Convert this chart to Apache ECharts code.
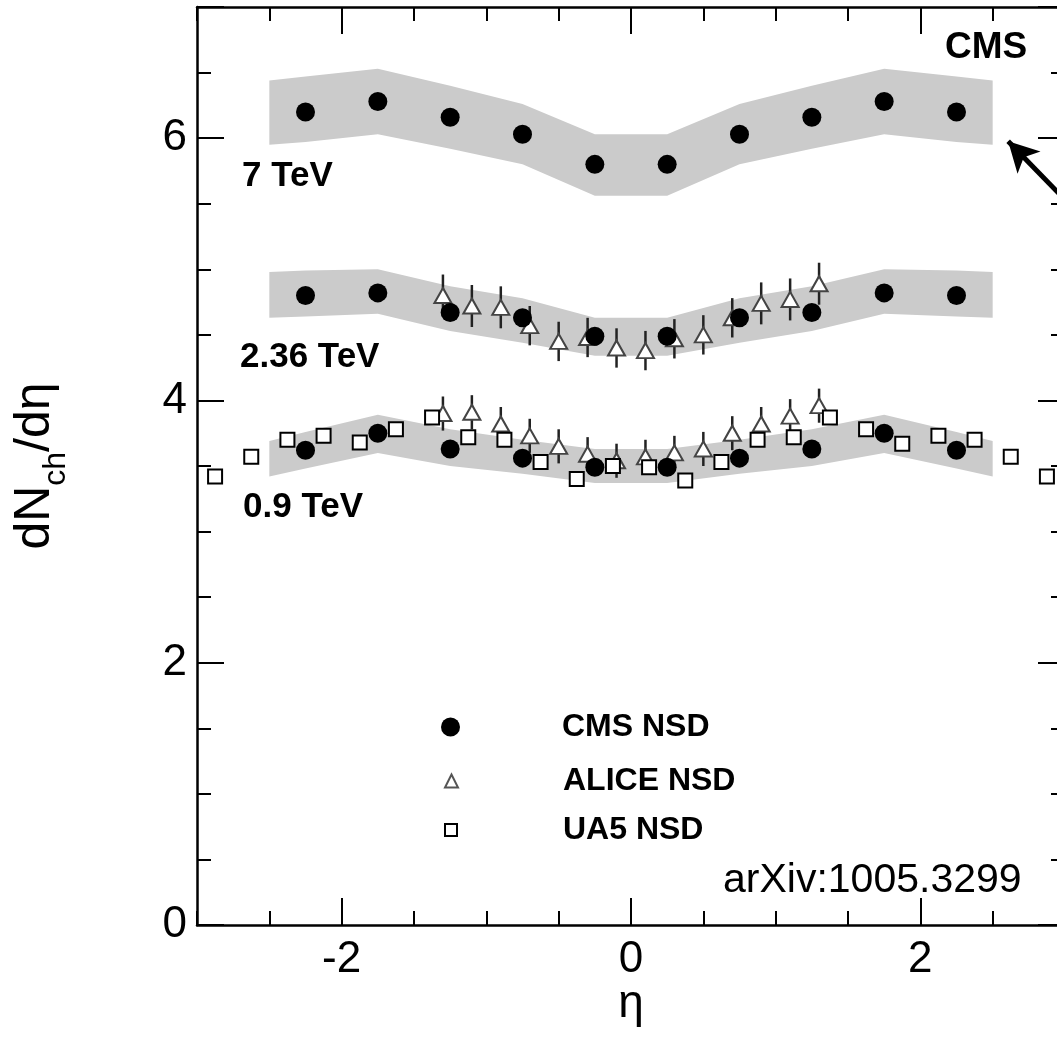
<!DOCTYPE html>
<html>
<head>
<meta charset="utf-8">
<script src="https://cdn.jsdelivr.net/npm/echarts@6/dist/echarts.min.js"></script>
<style>
html,body{margin:0;padding:0;background:#fff;}
#c{width:1057px;height:1045px;}
</style>
</head>
<body>
<div id="c"></div>
<script>
// ---------------- data ----------------
const cmsEta    = [-2.25, -1.75, -1.25, -0.75, -0.25, 0.25, 0.75, 1.25, 1.75, 2.25];
const cms7TeV   = [6.20, 6.28, 6.16, 6.03, 5.80, 5.80, 6.03, 6.16, 6.28, 6.20];
const cms236TeV = [4.80, 4.82, 4.67, 4.63, 4.49, 4.49, 4.63, 4.67, 4.82, 4.80];
const cms09TeV  = [3.62, 3.75, 3.63, 3.56, 3.49, 3.49, 3.56, 3.63, 3.75, 3.62];

const bandEta     = [-2.5, -2.25, -1.75, -1.25, -0.75, -0.25, 0.25, 0.75, 1.25, 1.75, 2.25, 2.5];
const band7Low    = [5.95, 5.97, 6.03, 5.92, 5.80, 5.56, 5.56, 5.80, 5.92, 6.03, 5.97, 5.95];
const band7High   = [6.44, 6.47, 6.53, 6.40, 6.26, 6.03, 6.03, 6.26, 6.40, 6.53, 6.47, 6.44];
const band236Low  = [4.63, 4.64, 4.66, 4.53, 4.44, 4.34, 4.34, 4.44, 4.53, 4.66, 4.64, 4.63];
const band236High = [4.98, 4.99, 5.00, 4.87, 4.78, 4.63, 4.63, 4.78, 4.87, 5.00, 4.99, 4.98];
const band09Low   = [3.42, 3.48, 3.60, 3.50, 3.44, 3.37, 3.37, 3.44, 3.50, 3.60, 3.48, 3.42];
const band09High  = [3.69, 3.76, 3.89, 3.78, 3.70, 3.63, 3.63, 3.70, 3.78, 3.89, 3.76, 3.69];

const aliceEta     = [-1.3, -1.1, -0.9, -0.7, -0.5, -0.3, -0.1, 0.1, 0.3, 0.5, 0.7, 0.9, 1.1, 1.3];
const alice236TeV  = [4.80, 4.72, 4.71, 4.57, 4.45, 4.48, 4.40, 4.38, 4.47, 4.50, 4.63, 4.74, 4.77, 4.89];
const alice236Err  = [0.16, 0.16, 0.16, 0.15, 0.15, 0.15, 0.15, 0.15, 0.15, 0.15, 0.15, 0.16, 0.16, 0.16];
const alice09TeV   = [3.90, 3.91, 3.82, 3.73, 3.65, 3.59, 3.54, 3.57, 3.60, 3.63, 3.75, 3.82, 3.88, 3.96];
const alice09Err   = [0.13, 0.13, 0.13, 0.13, 0.13, 0.13, 0.13, 0.13, 0.13, 0.13, 0.13, 0.13, 0.13, 0.13];

const ua5Eta   = [-2.875, -2.625, -2.375, -2.125, -1.875, -1.625, -1.375, -1.125, -0.875, -0.625, -0.375, -0.125,
                   0.125, 0.375, 0.625, 0.875, 1.125, 1.375, 1.625, 1.875, 2.125, 2.375, 2.625, 2.875];
const ua509TeV = [3.42, 3.57, 3.70, 3.73, 3.68, 3.78, 3.87, 3.72, 3.70, 3.53, 3.40, 3.50,
                  3.49, 3.39, 3.53, 3.70, 3.72, 3.87, 3.78, 3.67, 3.73, 3.70, 3.57, 3.42];

const xTickLabels = [-2, 0, 2];
const yTickLabels = [0, 2, 4, 6];
const seriesNames = ['CMS NSD', 'ALICE NSD', 'UA5 NSD'];
const energyLabels = ['7 TeV', '2.36 TeV', '0.9 TeV'];

// ---------------- chart ----------------
const FONT = "'Liberation Sans', Arial, Helvetica, sans-serif";
const chart = echarts.init(document.getElementById('c'));

const bands = [
  {lo: band7Low, hi: band7High},
  {lo: band236Low, hi: band236High},
  {lo: band09Low, hi: band09High}
];
const pair = (xs, ys) => xs.map((x, i) => [x, ys[i]]);
const cmsData = pair(cmsEta, cms7TeV).concat(pair(cmsEta, cms236TeV), pair(cmsEta, cms09TeV));
const aliceData = pair(aliceEta, alice236TeV).concat(pair(aliceEta, alice09TeV));
const errData = aliceEta.map((x, i) => [x, alice236TeV[i], alice236Err[i]])
  .concat(aliceEta.map((x, i) => [x, alice09TeV[i], alice09Err[i]]));
const ua5Data = pair(ua5Eta, ua509TeV);

const GL = 197, GT = 7, GW = 868, GH = 918;
const unitX = GW / 6;

const axisLineStyle = {show: true, onZero: false, lineStyle: {color: '#000', width: 2.5}};
const noLine = {show: false, onZero: false};
const shortTick = {show: true, inside: true, length: 14, lineStyle: {color: '#000', width: 2}};
const longTick = {show: true, inside: true, length: 27, lineStyle: {color: '#000', width: 2}};
const noLabel = {show: false};
const labelStyle = {color: '#000', fontSize: 44, fontFamily: FONT};

const legendText = (gap) => ({
  color: '#000', fontSize: 32, fontWeight: 'bold', fontFamily: FONT, lineHeight: 32,
  rich: {g: {width: gap, lineHeight: 32}}
});

const option = {
  animation: false,
  backgroundColor: '#fff',
  grid: [
    {left: GL, top: GT, width: GW, height: GH, outerBoundsMode: 'none', containLabel: false},
    {left: GL + unitX, top: GT, width: GW - unitX, height: GH, outerBoundsMode: 'none', containLabel: false},
    {left: GL, top: GT, width: GW, height: GH, outerBoundsMode: 'none', containLabel: false}
  ],
  xAxis: [
    {gridIndex: 0, type: 'value', position: 'bottom', min: -3, max: 3, interval: 0.5,
     axisLine: axisLineStyle, axisTick: shortTick, axisLabel: noLabel, splitLine: {show: false},
     name: 'η', nameLocation: 'middle', nameGap: 56, nameMoveOverlap: false,
     nameTextStyle: {color: '#000', fontSize: 46, fontFamily: FONT}},
    {gridIndex: 0, type: 'value', position: 'top', min: -3, max: 3, interval: 0.5,
     axisLine: axisLineStyle, axisTick: shortTick, axisLabel: noLabel, splitLine: {show: false}},
    {gridIndex: 1, type: 'value', position: 'bottom', min: -2, max: 3, interval: 2,
     axisLine: noLine, axisTick: longTick, splitLine: {show: false},
     axisLabel: Object.assign({margin: 13, formatter: v => xTickLabels.indexOf(v) >= 0 ? String(v) : ''}, labelStyle)},
    {gridIndex: 1, type: 'value', position: 'top', min: -2, max: 3, interval: 2,
     axisLine: noLine, axisTick: longTick, axisLabel: noLabel, splitLine: {show: false}},
    {gridIndex: 2, type: 'value', show: false, min: -3, max: 3, axisLine: noLine}
  ],
  yAxis: [
    {gridIndex: 0, type: 'value', position: 'left', min: 0, max: 7, interval: 0.5,
     axisLine: axisLineStyle, axisTick: shortTick, axisLabel: noLabel, splitLine: {show: false},
     name: 'dN{s|ch}/dη', nameLocation: 'middle', nameGap: 125, nameRotate: 90, nameMoveOverlap: false,
     nameTextStyle: {color: '#000', fontSize: 50, fontFamily: FONT,
       rich: {s: {fontSize: 32, fontFamily: FONT, color: '#000', padding: [42, 0, 0, 0]}}}},
    {gridIndex: 0, type: 'value', position: 'right', min: 0, max: 7, interval: 0.5,
     axisLine: axisLineStyle, axisTick: shortTick, axisLabel: noLabel, splitLine: {show: false}},
    {gridIndex: 1, type: 'value', show: false, min: 0, max: 7, axisLine: noLine},
    {gridIndex: 2, type: 'value', position: 'left', min: 0, max: 7, interval: 2,
     axisLine: noLine, axisTick: longTick, splitLine: {show: false},
     axisLabel: Object.assign({margin: 10, formatter: v => yTickLabels.indexOf(v) >= 0 ? String(v) : ''}, labelStyle)},
    {gridIndex: 2, type: 'value', position: 'right', min: 0, max: 7, interval: 2,
     axisLine: noLine, axisTick: longTick, axisLabel: noLabel, splitLine: {show: false}}
  ],
  legend: [
    {data: [seriesNames[0]], left: 441, top: 711, padding: 0, orient: 'vertical', selectedMode: false,
     itemWidth: 19, itemHeight: 19, icon: 'circle', itemStyle: {color: '#000', borderWidth: 0},
     formatter: n => '{g|}' + n, textStyle: legendText(97)},
    {data: [seriesNames[1]], left: 444, top: 765, padding: 0, orient: 'vertical', selectedMode: false,
     itemWidth: 13, itemHeight: 13, icon: 'triangle', itemStyle: {color: '#fff', borderColor: '#555', borderWidth: 2},
     formatter: n => '{g|}' + n, textStyle: legendText(100)},
    {data: [seriesNames[2]], left: 444, top: 814, padding: 0, orient: 'vertical', selectedMode: false,
     itemWidth: 12, itemHeight: 12, icon: 'rect', itemStyle: {color: '#fff', borderColor: '#000', borderWidth: 2},
     formatter: n => '{g|}' + n, textStyle: legendText(101)}
  ],
  graphic: [
    {type: 'text', x: 945, y: 48, silent: true,
     style: {text: 'CMS', font: 'bold 37px ' + FONT, fill: '#000', verticalAlign: 'middle'}},
    {type: 'text', x: 242, y: 176, silent: true,
     style: {text: energyLabels[0], font: 'bold 35px ' + FONT, fill: '#000', verticalAlign: 'middle'}},
    {type: 'text', x: 240, y: 357, silent: true,
     style: {text: energyLabels[1], font: 'bold 35px ' + FONT, fill: '#000', verticalAlign: 'middle'}},
    {type: 'text', x: 243, y: 507, silent: true,
     style: {text: energyLabels[2], font: 'bold 35px ' + FONT, fill: '#000', verticalAlign: 'middle'}},
    {type: 'text', x: 723, y: 881, silent: true,
     style: {text: 'arXiv:1005.3299', font: '41px ' + FONT, fill: '#000', verticalAlign: 'middle'}}
  ],
  series: [
    {
      type: 'custom', name: 'syst', xAxisIndex: 0, yAxisIndex: 0, silent: true, z: 1,
      data: bands.map(() => [0, 3]),
      renderItem: (params, api) => {
        const b = bands[params.dataIndex];
        const pts = [];
        for (let i = 0; i < bandEta.length; i++) pts.push(api.coord([bandEta[i], b.hi[i]]));
        for (let i = bandEta.length - 1; i >= 0; i--) pts.push(api.coord([bandEta[i], b.lo[i]]));
        return {type: 'polygon', shape: {points: pts}, style: {fill: '#cbcbcb'}};
      }
    },
    {
      type: 'custom', name: 'aliceErr', xAxisIndex: 0, yAxisIndex: 0, silent: true, z: 2,
      dimensions: ['x', 'y', 'err'], encode: {x: 0, y: 1},
      data: errData,
      renderItem: (params, api) => {
        const x = api.value(0), y = api.value(1), e = api.value(2);
        const p1 = api.coord([x, y - e]), p2 = api.coord([x, y + e]);
        return {type: 'line', shape: {x1: p1[0], y1: p1[1], x2: p2[0], y2: p2[1]},
                style: {stroke: '#222', lineWidth: 2.5}};
      }
    },
    {
      type: 'scatter', name: seriesNames[1], xAxisIndex: 0, yAxisIndex: 0, z: 3,
      symbol: 'triangle', symbolSize: [17, 15],
      itemStyle: {color: '#fff', borderColor: '#444', borderWidth: 2, opacity: 1},
      data: aliceData
    },
    {
      type: 'scatter', name: seriesNames[0], xAxisIndex: 0, yAxisIndex: 0, z: 4,
      symbol: 'circle', symbolSize: 19,
      itemStyle: {color: '#000', opacity: 1},
      data: cmsData,
      markLine: {
        silent: true, symbol: ['none', 'arrow'], symbolSize: [24, 30],
        lineStyle: {color: '#000', width: 5, type: 'solid'},
        label: {show: false},
        data: [[{coord: [3.0, 5.53]}, {coord: [2.607, 5.977]}]]
      }
    },
    {
      type: 'scatter', name: seriesNames[2], xAxisIndex: 0, yAxisIndex: 0, z: 5,
      symbol: 'rect', symbolSize: 14,
      itemStyle: {color: '#fff', borderColor: '#000', borderWidth: 2, opacity: 1},
      data: ua5Data
    }
  ]
};
chart.setOption(option);
</script>
</body>
</html>
